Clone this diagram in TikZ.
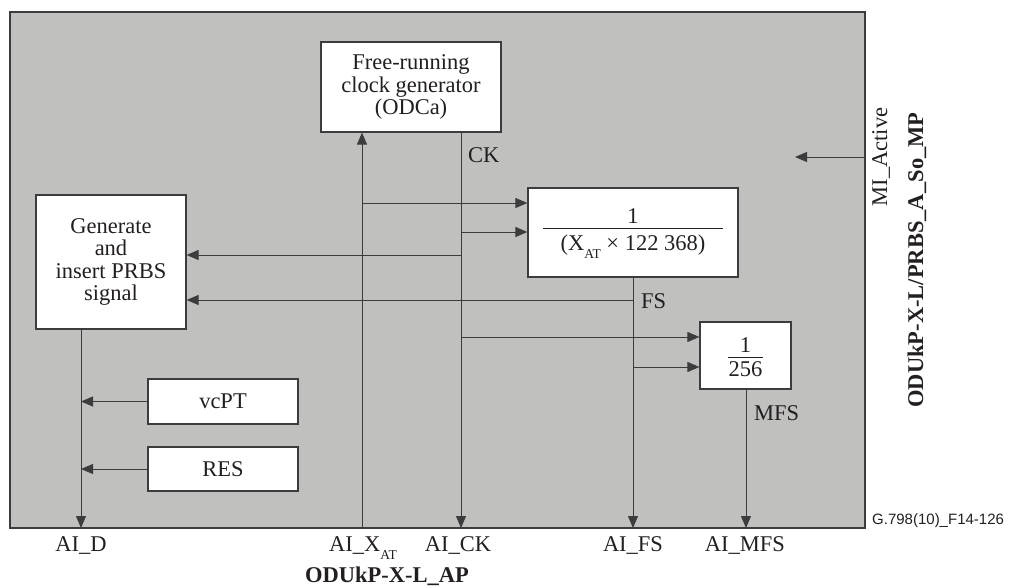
\documentclass[tikz,border=0pt]{standalone}
\usepackage{fontspec}
\setmainfont{Liberation Serif}
\newfontfamily\labelsans{Liberation Sans}
\usetikzlibrary{arrows.meta}
\definecolor{panel}{RGB}{192,192,191}
\definecolor{ink}{RGB}{35,31,32}
\definecolor{edge}{RGB}{60,60,60}
\newcommand{\subAT}{\raisebox{-8pt}{\fontsize{13.5}{13.5}\selectfont AT}}
\begin{document}
\begin{tikzpicture}[x=1pt,y=-1pt,
  every node/.style={font=\fontsize{22.5}{22.5}\selectfont, inner sep=0pt, text=ink},
  blk/.style={draw=edge, fill=white, line width=1.2pt},
  sig/.style={draw=edge, line width=0.9pt},
  arr/.style={sig, -{Triangle[length=12pt,width=10pt]}},
  boldlab/.style={font=\fontsize{22.5}{22.5}\selectfont\bfseries},
  lab/.style={anchor=west}
]
\useasboundingbox (0,0) rectangle (1016,588);
\node[draw=edge, fill=panel, line width=1.5pt, minimum width=855pt, minimum height=516pt] (panel) at (437.5,270) {};

% blocks
\node[blk, minimum width=180pt, minimum height=90pt, align=center] (clock) at (411,87)
  {Free-running\\clock generator\\(ODCa)};
\node[blk, minimum width=210pt, minimum height=89pt] (frac) at (633,232.5) {};
\node (fnum) at (633,216) {1};
\node (fden) at (633,247) {(X\subAT{} × 122 368)};
\draw[draw=ink, line width=1pt] (543,228) -- (723,228);
\node[blk, minimum width=91pt, minimum height=67pt] (mf) at (745.5,355.5) {};
\node (mnum) at (745.5,345) {1};
\node (mden) at (745.5,369) {256};
\draw[draw=ink, line width=1pt] (728,357) -- (763,357);
\node[blk, minimum width=150pt, minimum height=134pt, align=center] (gen) at (111,262)
  {Generate\\and\\insert PRBS\\signal};
\node[blk, minimum width=150pt, minimum height=45pt] (vcpt) at (223,401.5) {vcPT};
\node[blk, minimum width=150pt, minimum height=44pt] (res) at (223,469) {RES};

% ports on the bottom edge
\coordinate (pD) at (81,528);
\coordinate (pX) at (362,528);
\coordinate (pCK) at (461,528);
\coordinate (pFS) at (633,528);
\coordinate (pMFS) at (746,528);

% junctions
\coordinate (jX1) at (362,203);
\coordinate (jC1) at (461,232);
\coordinate (jC2) at (461,255);
\coordinate (jF1) at (633,300);
\coordinate (jC3) at (461,337);
\coordinate (jF2) at (633,367);
\coordinate (jD1) at (81,401.5);
\coordinate (jD2) at (81,469);

% connectors
\draw[arr] (pX) -- (clock.south -| pX);
\draw[arr] (clock.south -| pCK) -- (pCK);
\draw[arr] (jX1) -- (jX1 -| frac.west);
\draw[arr] (jC1) -- (jC1 -| frac.west);
\draw[arr] (jC2) -- (jC2 -| gen.east);
\draw[arr] (jF1) -- (jF1 -| gen.east);
\draw[arr] (frac.south) -- (pFS);
\draw[arr] (jC3) -- (jC3 -| mf.west);
\draw[arr] (jF2) -- (jF2 -| mf.west);
\draw[arr] (mf.south -| pMFS) -- (pMFS);
\draw[arr] (gen.south -| pD) -- (pD);
\draw[arr] (vcpt.west) -- (jD1);
\draw[arr] (res.west) -- (jD2);
\coordinate (mi) at (865,157);
\coordinate (miEnd) at (795,157);
\draw[arr] (mi) -- (miEnd);

% signal labels
\node[lab] (lCK) at (468,155) {CK};
\node[lab] (lFS) at (641,301) {FS};
\node[lab] (lMFS) at (754,413) {MFS};

% port labels
\node[anchor=base] (tD) at (81,551) {AI\_D};
\node[anchor=base] (tX) at (363,551) {AI\_X\subAT};
\node[anchor=base] (tCK) at (458,551) {AI\_CK};
\node[anchor=base] (tFS) at (633,551) {AI\_FS};
\node[anchor=base] (tMFS) at (745,551) {AI\_MFS};
\node[anchor=base, boldlab] (tAP) at (387,582) {ODUkP-X-L\_AP};

% right labels
\node[anchor=base, rotate=90] (tMI) at (887,157) {MI\_Active};
\node[anchor=base, rotate=90, boldlab] (tMP) at (923,260) {ODUkP-X-L/PRBS\_A\_So\_MP};

\node[anchor=base west, font=\labelsans\fontsize{15}{15}\selectfont] (fig) at (872,524) {G.798(10)\_F14-126};
\end{tikzpicture}
\end{document}
